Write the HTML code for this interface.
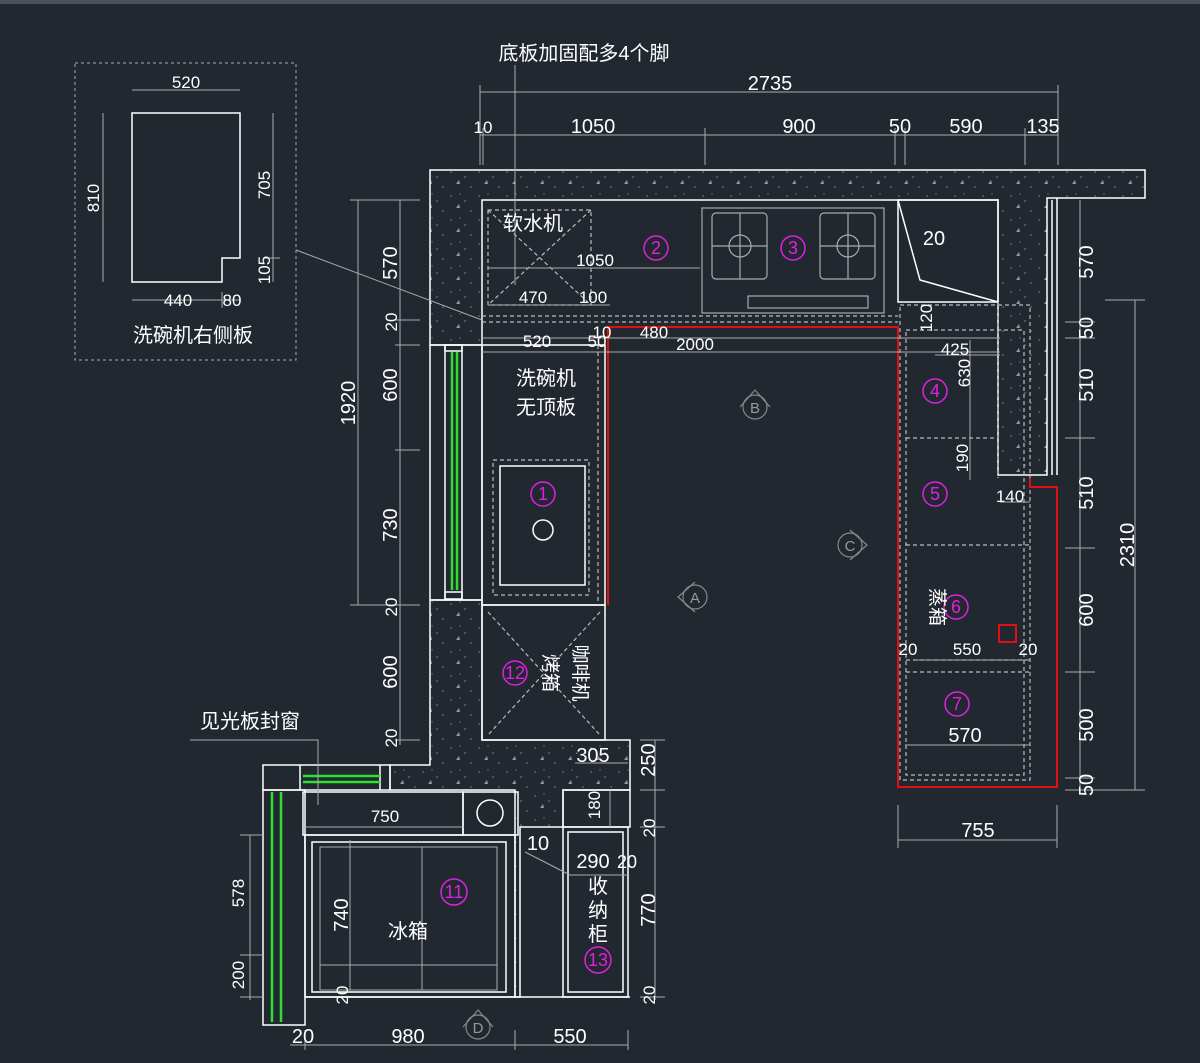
<!DOCTYPE html>
<html><head><meta charset="utf-8"><style>
html,body{margin:0;padding:0;background:#212830;}
svg{display:block;}
text{font-family:"Liberation Sans","Noto Sans CJK SC",sans-serif;fill:#fff;}
</style></head><body>
<svg width="1200" height="1063" viewBox="0 0 1200 1063" xmlns="http://www.w3.org/2000/svg">
<defs>
<pattern id="h" width="28" height="24" patternUnits="userSpaceOnUse">
<circle cx="3" cy="4" r="0.8" fill="#888"/><circle cx="17" cy="9" r="0.8" fill="#888"/>
<path d="M8 16 l3 -4 l1 4z" fill="#999"/><circle cx="23" cy="19" r="0.8" fill="#888"/><circle cx="12" cy="2" r="0.6" fill="#888"/>
</pattern>
</defs>
<rect width="1200" height="1063" fill="#212830"/>
<rect width="1200" height="4" fill="#4a5058"/>

<g fill="url(#h)" stroke="#fff" stroke-width="1.5">
<path d="M430 170 H1145 V198 H1047 V475 H998 V200 H482 V345 H430 Z"/>
<path d="M430 600 H482 V740 H630 V790 H563 V827 H520 V997 H515 V790 H390 V765 H430 Z"/>
</g>
<g stroke="#fff" stroke-width="1.5" fill="none">
<rect x="430" y="345" width="52" height="255"/>
<line x1="445" y1="345" x2="445" y2="600"/><line x1="462" y1="345" x2="462" y2="600"/>
<rect x="445" y="345" width="17" height="6"/><rect x="445" y="592" width="17" height="7"/>
<rect x="263" y="765" width="127" height="25"/>
<line x1="300" y1="765" x2="300" y2="790"/><line x1="380" y1="765" x2="380" y2="790"/>
<rect x="263" y="790" width="42" height="235"/>
</g>
<g stroke="#2ee02e" stroke-width="2.5">
<line x1="452" y1="352" x2="452" y2="590"/><line x1="457" y1="352" x2="457" y2="590"/>
<line x1="303" y1="776" x2="380" y2="776"/><line x1="303" y1="782" x2="380" y2="782"/>
<line x1="272" y1="792" x2="272" y2="1022"/><line x1="281" y1="792" x2="281" y2="1022"/>
</g>

<g stroke="#fff" stroke-width="1.5" fill="none">
<rect x="482" y="345" width="123" height="260"/>
<rect x="482" y="605" width="123" height="135"/>
<rect x="500" y="466" width="85" height="119"/>
<rect x="898" y="200" width="100" height="102"/>
<polyline points="898,200 920,280 998,302"/>
<line x1="1052" y1="200" x2="1052" y2="475"/><line x1="1057" y1="198" x2="1057" y2="475"/>
<rect x="303" y="792" width="160" height="43"/><rect x="463" y="792" width="55" height="43"/>
<rect x="305" y="835" width="210" height="162"/><rect x="312" y="842" width="194" height="150"/>
<rect x="563" y="827" width="65" height="170"/><rect x="568" y="832" width="55" height="160"/>
<rect x="563" y="790" width="67" height="37"/>
<line x1="305" y1="997" x2="630" y2="997"/>
</g>
<circle cx="543" cy="530" r="10" stroke="#fff" stroke-width="1.5" fill="none"/>
<circle cx="490" cy="813" r="13" stroke="#fff" stroke-width="1.5" fill="none"/>
<g stroke="#aaa" stroke-width="1" fill="none">
<rect x="320" y="847" width="177" height="143"/><line x1="350" y1="847" x2="350" y2="990"/><line x1="422" y1="847" x2="422" y2="990"/><line x1="320" y1="965" x2="497" y2="965"/>
</g>
<g stroke="#bbb" stroke-width="1.2" fill="none" stroke-dasharray="4,3">
<rect x="488" y="210" width="103" height="95"/><line x1="488" y1="210" x2="591" y2="305"/><line x1="591" y1="210" x2="488" y2="305"/>
<line x1="482" y1="316" x2="898" y2="316"/><line x1="482" y1="322" x2="898" y2="322"/>
<rect x="493" y="460" width="96" height="135"/>
<line x1="488" y1="612" x2="600" y2="735"/><line x1="600" y1="612" x2="488" y2="735"/>
<rect x="900" y="305" width="130" height="475"/><rect x="906" y="330" width="118" height="445"/>
<line x1="906" y1="438" x2="998" y2="438"/><line x1="906" y1="545" x2="1030" y2="545"/>
<line x1="906" y1="660" x2="1030" y2="660"/><line x1="906" y1="672" x2="1030" y2="672"/>
<line x1="998" y1="302" x2="998" y2="478"/>
<line x1="598" y1="345" x2="598" y2="605"/>
</g>
<g stroke="#aaa" stroke-width="1.2" fill="none">
<rect x="702" y="208" width="182" height="105"/>
<rect x="712" y="213" width="55" height="66" rx="4"/><rect x="820" y="213" width="55" height="66" rx="4"/>
<circle cx="740" cy="246" r="11"/><circle cx="848" cy="246" r="11"/>
<line x1="712" y1="246" x2="767" y2="246"/><line x1="740" y1="213" x2="740" y2="279"/>
<line x1="820" y1="246" x2="875" y2="246"/><line x1="848" y1="213" x2="848" y2="279"/>
<rect x="748" y="296" width="120" height="12"/>
</g>
<g stroke="#e01010" stroke-width="2" fill="none">
<polyline points="608,605 608,327 898,327 898,787 1057,787 1057,487 1030,487 1030,478"/>
<rect x="999" y="625" width="17" height="17"/>
</g>

<g stroke="#aaa" stroke-width="1" fill="none">
<line x1="480" y1="92" x2="1058" y2="92"/><line x1="480" y1="135" x2="1058" y2="135"/>
<line x1="480" y1="85" x2="480" y2="165"/><line x1="483" y1="128" x2="483" y2="165"/><line x1="705" y1="128" x2="705" y2="165"/>
<line x1="895" y1="128" x2="895" y2="165"/><line x1="905" y1="128" x2="905" y2="165"/><line x1="1025" y1="128" x2="1025" y2="165"/><line x1="1058" y1="85" x2="1058" y2="165"/>
<line x1="515" y1="65" x2="515" y2="285"/>
<line x1="400" y1="200" x2="400" y2="745"/><line x1="358" y1="200" x2="358" y2="605"/>
<line x1="350" y1="200" x2="420" y2="200"/><line x1="395" y1="320" x2="420" y2="320"/><line x1="395" y1="345" x2="420" y2="345"/><line x1="395" y1="450" x2="420" y2="450"/><line x1="350" y1="605" x2="420" y2="605"/><line x1="395" y1="740" x2="420" y2="740"/>
<line x1="1080" y1="200" x2="1080" y2="790"/><line x1="1135" y1="300" x2="1135" y2="790"/>
<line x1="1065" y1="322" x2="1095" y2="322"/><line x1="1065" y1="338" x2="1095" y2="338"/><line x1="1065" y1="438" x2="1095" y2="438"/><line x1="1065" y1="548" x2="1095" y2="548"/><line x1="1065" y1="672" x2="1095" y2="672"/><line x1="1065" y1="778" x2="1095" y2="778"/><line x1="1065" y1="790" x2="1145" y2="790"/><line x1="1105" y1="300" x2="1145" y2="300"/>
<line x1="898" y1="840" x2="1057" y2="840"/><line x1="898" y1="805" x2="898" y2="848"/><line x1="1057" y1="805" x2="1057" y2="848"/>
<line x1="482" y1="338" x2="1000" y2="338"/><line x1="482" y1="352" x2="1000" y2="352"/>
<line x1="488" y1="268" x2="700" y2="268"/><line x1="488" y1="305" x2="610" y2="305"/>
<line x1="935" y1="355" x2="1000" y2="355"/><line x1="970" y1="340" x2="970" y2="480"/>
<line x1="915" y1="660" x2="1030" y2="660"/><line x1="905" y1="745" x2="1030" y2="745"/>
<line x1="1000" y1="502" x2="1030" y2="502"/>
<line x1="655" y1="740" x2="655" y2="1000"/><line x1="640" y1="740" x2="665" y2="740"/><line x1="640" y1="790" x2="665" y2="790"/><line x1="640" y1="827" x2="665" y2="827"/><line x1="640" y1="997" x2="665" y2="997"/>
<line x1="610" y1="790" x2="610" y2="827"/>
<line x1="290" y1="1045" x2="628" y2="1045"/><line x1="305" y1="1030" x2="305" y2="1050"/><line x1="515" y1="1030" x2="515" y2="1050"/><line x1="628" y1="1030" x2="628" y2="1050"/>
<line x1="250" y1="835" x2="250" y2="1000"/><line x1="240" y1="835" x2="263" y2="835"/><line x1="240" y1="955" x2="263" y2="955"/><line x1="240" y1="997" x2="263" y2="997"/>
<line x1="305" y1="827" x2="463" y2="827"/><line x1="350" y1="840" x2="350" y2="990"/>
<line x1="570" y1="875" x2="628" y2="875"/><line x1="525" y1="852" x2="570" y2="875"/>
<polyline points="190,740 318,740 318,805"/>
<line x1="575" y1="763" x2="628" y2="763"/>
<rect x="75" y="63" width="221" height="297" stroke-dasharray="3,3"/>
<line x1="296" y1="250" x2="482" y2="320"/>
<line x1="132" y1="90" x2="240" y2="90"/><line x1="103" y1="113" x2="103" y2="282"/><line x1="273" y1="113" x2="273" y2="282"/><line x1="265" y1="258" x2="280" y2="258"/><line x1="132" y1="300" x2="240" y2="300"/><line x1="222" y1="292" x2="222" y2="308"/>
</g>
<polygon points="132,113 240,113 240,258 222,258 222,282 132,282" fill="none" stroke="#fff" stroke-width="1.5"/>

<g stroke="#888" stroke-width="1.2" fill="none">
<circle cx="755" cy="407" r="12"/><path d="M740 407 L755 390 L770 407"/>
<circle cx="695" cy="597" r="12"/><path d="M695 582 L678 597 L695 612"/>
<circle cx="850" cy="545" r="12"/><path d="M850 530 L867 545 L850 560"/>
<circle cx="478" cy="1027" r="12"/><path d="M463 1027 L478 1010 L493 1027"/>
</g>
<g font-size="15" text-anchor="middle" font-family="Liberation Serif,serif">
<text x="755" y="413" style="fill:#999">B</text><text x="695" y="603" style="fill:#999">A</text><text x="850" y="551" style="fill:#999">C</text><text x="478" y="1033" style="fill:#999">D</text>
</g>

<g stroke="#e020e0" stroke-width="1.5" fill="none">
<circle cx="543" cy="494" r="12"/><circle cx="656" cy="248" r="12"/><circle cx="793" cy="248" r="12"/>
<circle cx="935" cy="391" r="12"/><circle cx="935" cy="494" r="12"/><circle cx="956" cy="607" r="12"/><circle cx="957" cy="704" r="12"/>
<circle cx="515" cy="673" r="12"/><circle cx="454" cy="892" r="13"/><circle cx="598" cy="960" r="13"/>
</g>
<g font-size="18" text-anchor="middle" font-family="Liberation Serif,serif">
<text x="543" y="500" style="fill:#e020e0">1</text><text x="656" y="254" style="fill:#e020e0">2</text><text x="793" y="254" style="fill:#e020e0">3</text>
<text x="935" y="397" style="fill:#e020e0">4</text><text x="935" y="500" style="fill:#e020e0">5</text><text x="956" y="613" style="fill:#e020e0">6</text><text x="957" y="710" style="fill:#e020e0">7</text>
<text x="515" y="679" style="fill:#e020e0">12</text><text x="454" y="898" style="fill:#e020e0">11</text><text x="598" y="966" style="fill:#e020e0">13</text>
</g>

<g font-size="20" text-anchor="middle">
<text x="584" y="60">底板加固配多4个脚</text>
<text x="770" y="90">2735</text>
<text x="483" y="133" font-size="17">10</text><text x="593" y="133">1050</text><text x="799" y="133">900</text><text x="900" y="133">50</text><text x="966" y="133">590</text><text x="1043" y="133">135</text>
<text x="533" y="230">软水机</text>
<text x="595" y="266" font-size="17">1050</text><text x="533" y="303" font-size="17">470</text><text x="593" y="303" font-size="17">100</text>
<text x="934" y="245">20</text>
<text x="537" y="347" font-size="17">520</text><text x="597" y="347" font-size="17">50</text><text x="602" y="338" font-size="17">10</text><text x="654" y="338" font-size="17">480</text><text x="695" y="350" font-size="17">2000</text>
<text x="546" y="385">洗碗机</text><text x="546" y="414">无顶板</text>
<text x="955" y="355" font-size="17">425</text><text x="1010" y="502" font-size="17">140</text>
<text x="908" y="655" font-size="17">20</text><text x="967" y="655" font-size="17">550</text><text x="1028" y="655" font-size="17">20</text>
<text x="965" y="742">570</text>
<text x="978" y="837">755</text>
<text x="186" y="88" font-size="17">520</text><text x="178" y="306" font-size="17">440</text><text x="232" y="306" font-size="17">80</text>
<text x="193" y="342">洗碗机右侧板</text>
<text x="250" y="728">见光板封窗</text>
<text x="385" y="822" font-size="17">750</text>
<text x="408" y="938">冰箱</text>
<text x="538" y="850">10</text><text x="593" y="868">290</text><text x="627" y="868" font-size="18">20</text>
<text x="598" y="893">收</text><text x="598" y="917">纳</text><text x="598" y="941">柜</text>
<text x="593" y="762">305</text>
<text x="303" y="1043">20</text><text x="408" y="1043">980</text><text x="570" y="1043">550</text>
</g>
<g font-size="20" text-anchor="middle">
<text transform="translate(397,263) rotate(-90)">570</text>
<text transform="translate(397,322) rotate(-90)" font-size="17">20</text>
<text transform="translate(397,385) rotate(-90)">600</text>
<text transform="translate(397,525) rotate(-90)">730</text>
<text transform="translate(397,607) rotate(-90)" font-size="17">20</text>
<text transform="translate(397,672) rotate(-90)">600</text>
<text transform="translate(397,738) rotate(-90)" font-size="17">20</text>
<text transform="translate(355,403) rotate(-90)">1920</text>
<text transform="translate(1093,262) rotate(-90)">570</text>
<text transform="translate(1093,328) rotate(-90)">50</text>
<text transform="translate(1093,385) rotate(-90)">510</text>
<text transform="translate(1093,493) rotate(-90)">510</text>
<text transform="translate(1093,610) rotate(-90)">600</text>
<text transform="translate(1093,725) rotate(-90)">500</text>
<text transform="translate(1093,785) rotate(-90)">50</text>
<text transform="translate(1134,545) rotate(-90)">2310</text>
<text transform="translate(932,318) rotate(-90)" font-size="17">120</text>
<text transform="translate(970,373) rotate(-90)" font-size="17">630</text>
<text transform="translate(968,458) rotate(-90)" font-size="17">190</text>
<text transform="translate(99,198) rotate(-90)" font-size="17">810</text>
<text transform="translate(270,185) rotate(-90)" font-size="17">705</text>
<text transform="translate(270,270) rotate(-90)" font-size="17">105</text>
<text transform="translate(931,607) rotate(90)" font-size="19">蒸箱</text>
<text transform="translate(544,673) rotate(90)" font-size="19">烤箱</text>
<text transform="translate(574,673) rotate(90)" font-size="19">咖啡机</text>
<text transform="translate(348,915) rotate(-90)">740</text>
<text transform="translate(348,995) rotate(-90)" font-size="17">20</text>
<text transform="translate(655,760) rotate(-90)">250</text>
<text transform="translate(600,805) rotate(-90)" font-size="17">180</text>
<text transform="translate(655,828) rotate(-90)" font-size="17">20</text>
<text transform="translate(655,910) rotate(-90)">770</text>
<text transform="translate(655,995) rotate(-90)" font-size="17">20</text>
<text transform="translate(244,893) rotate(-90)" font-size="17">578</text>
<text transform="translate(244,975) rotate(-90)" font-size="17">200</text>
</g>
</svg>
</body></html>
